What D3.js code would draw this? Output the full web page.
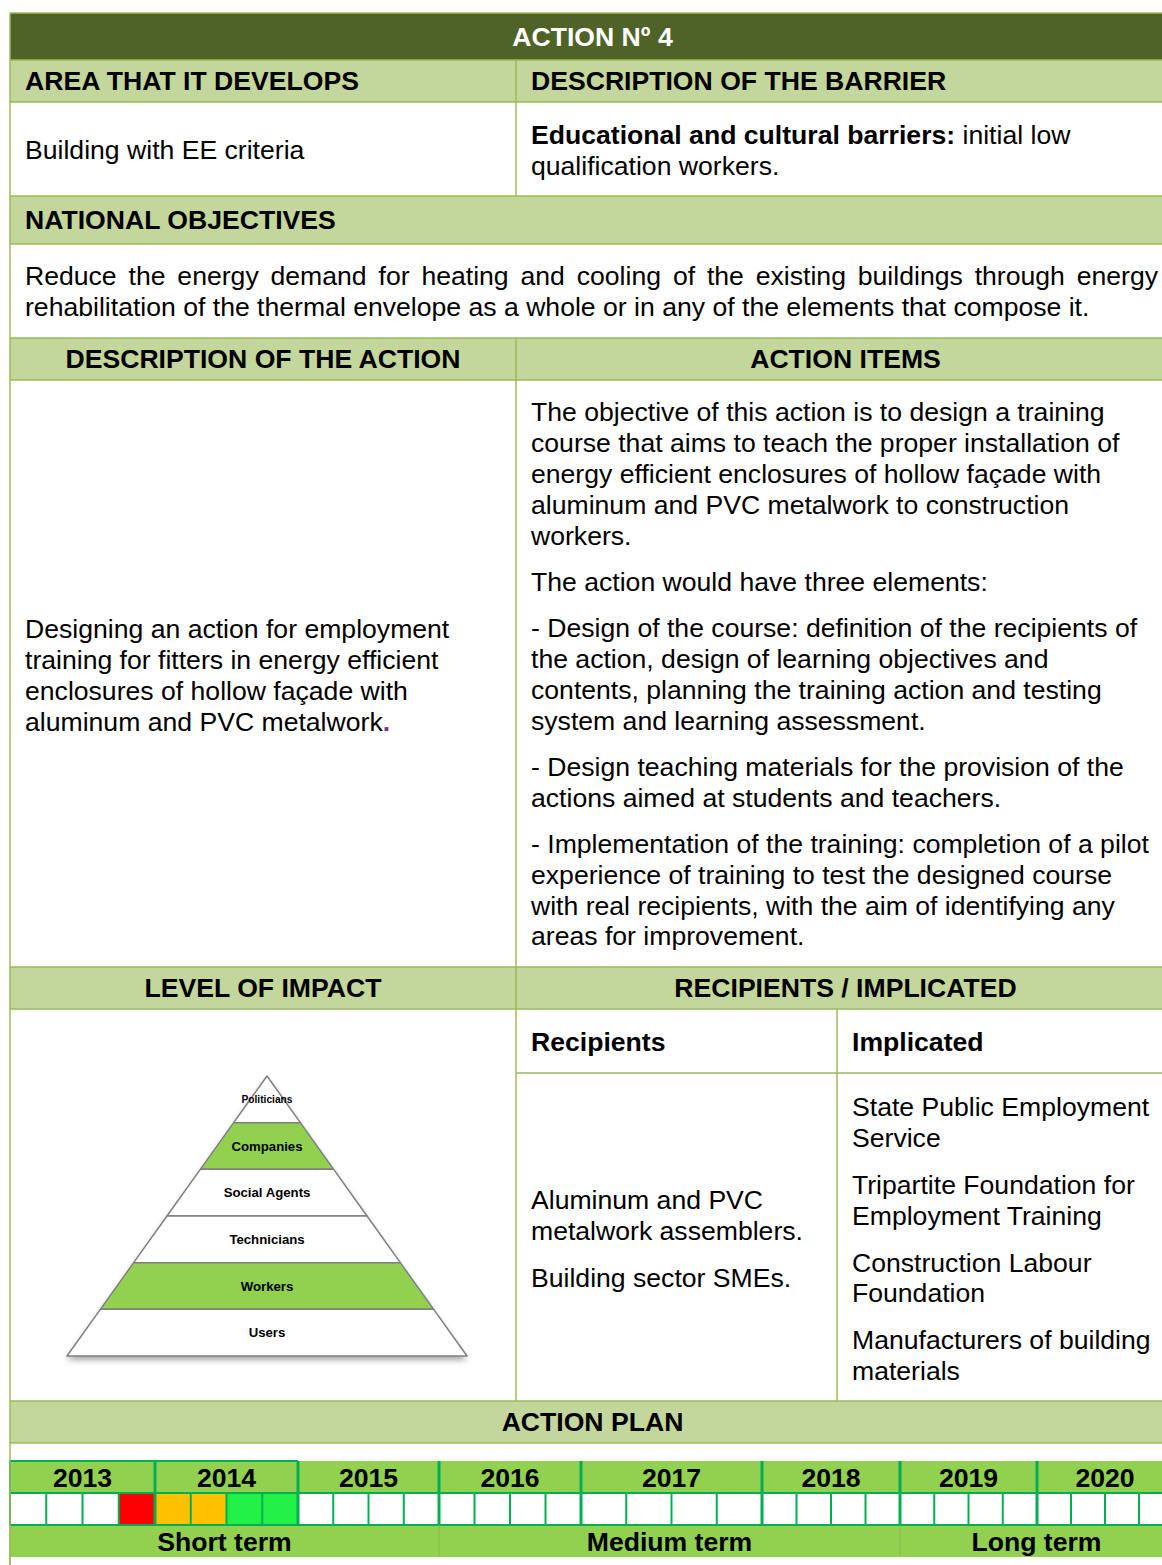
<!DOCTYPE html>
<html><head><meta charset="utf-8">
<script src="https://cdn.jsdelivr.net/npm/d3@7"></script>
<style>
html,body{margin:0;padding:0;background:#fff;}
svg{display:block;}
text{font-family:"Liberation Sans",Arial,sans-serif;}
</style></head>
<body>
<script>
// ---------- data ----------
const title = "ACTION Nº 4";
const areaHeader = "AREA THAT IT DEVELOPS";
const barrierHeader = "DESCRIPTION OF THE BARRIER";
const areaText = "Building with EE criteria";
const barrierBold = "Educational and cultural barriers:";
const barrierLines = [" initial low", "qualification workers."];
const objectivesHeader = "NATIONAL OBJECTIVES";
const objectivesLines = [
  "Reduce the energy demand for heating and cooling of the existing buildings through energy",
  "rehabilitation of the thermal envelope as a whole or in any of the elements that compose it."
];
const actionDescHeader = "DESCRIPTION OF THE ACTION";
const actionItemsHeader = "ACTION ITEMS";
const actionDescLines = [
  "Designing an action for employment",
  "training for fitters in energy efficient",
  "enclosures of hollow façade with",
  "aluminum and PVC metalwork"
];
const actionItemParagraphs = [
  ["The objective of this action is to design a training",
   "course that aims to teach the proper installation of",
   "energy efficient enclosures of hollow façade with",
   "aluminum and PVC metalwork to construction",
   "workers."],
  ["The action would have three elements:"],
  ["- Design of the course: definition of the recipients of",
   "the action, design of learning objectives and",
   "contents, planning the training action and testing",
   "system and learning assessment."],
  ["- Design teaching materials for the provision of the",
   "actions aimed at students and teachers."],
  ["- Implementation of the training: completion of a pilot",
   "experience of training to test the designed course",
   "with real recipients, with the aim of identifying any",
   "areas for improvement."]
];
const impactHeader = "LEVEL OF IMPACT";
const recipientsHeader = "RECIPIENTS / IMPLICATED";
const pyramidLevels = ["Politicians","Companies","Social Agents","Technicians","Workers","Users"];
const pyramidHighlighted = ["Companies","Workers"];
const recipientsParagraphs = [["Aluminum and PVC","metalwork assemblers."],["Building sector SMEs."]];
const implicatedParagraphs = [
  ["State Public Employment","Service"],
  ["Tripartite Foundation for","Employment Training"],
  ["Construction Labour","Foundation"],
  ["Manufacturers of building","materials"]
];
const planHeader = "ACTION PLAN";
const years = [2013,2014,2015,2016,2017,2018,2019,2020];
const activeQuarterYears = [2013,2014,2014,2014,2014];
const activeQuarterNums  = [4,1,2,3,4];
const activeQuarterPhase = ["start","progress","progress","done","done"];
const terms = ["Short term","Medium term","Long term"];
const termStart = [2013,2016,2019];
const termEnd = [2016,2019,2021];

// ---------- styles ----------
const W = 1162, H = 1565;
const FS = 26.6;
const dark = "#4f6228", light = "#c3d69b", line = "#9bbb59";
const tlGreen = "#92d050", tlLine = "#00b050";
const phaseColor = {start:"#ff0000", progress:"#ffc000", done:"#22f046"};
const L = 10, R = 1175, MID = 516, SUB = 837;

const svg = d3.select("body").append("svg").attr("width",W).attr("height",H);
const defs = svg.append("defs");
const f = defs.append("filter").attr("id","shadow").attr("x","-20%").attr("y","-20%").attr("width","140%").attr("height","160%");
f.append("feDropShadow").attr("dx",0).attr("dy",4).attr("stdDeviation",3).attr("flood-color","#000").attr("flood-opacity",0.35);

const g = svg.append("g");
function rect(x,y,w,h,fill){ g.append("rect").attr("x",x).attr("y",y).attr("width",w).attr("height",h).attr("fill",fill); }
function hline(x1,x2,y,c=line,sw=1.5){ g.append("line").attr("x1",x1).attr("x2",x2).attr("y1",y).attr("y2",y).attr("stroke",c).attr("stroke-width",sw); }
function vline(x,y1,y2,c=line,sw=1.5){ g.append("line").attr("x1",x).attr("x2",x).attr("y1",y1).attr("y2",y2).attr("stroke",c).attr("stroke-width",sw); }
function txt(s,x,y,opts={}){
  return g.append("text").attr("x",x).attr("y",y).attr("dy","0.35em")
    .attr("font-size",opts.size||FS).attr("font-weight",opts.bold?"bold":"normal")
    .attr("fill",opts.fill||"#000").attr("text-anchor",opts.anchor||"start").text(s);
}
const LH = 30.8;
function paras(ps,x,y0,gap){
  let y=y0;
  ps.forEach(p=>{ p.forEach(l=>{ txt(l,x,y); y+=LH; }); y+=gap; });
}

// backgrounds
rect(L,13,R-L,47,dark);
rect(L,60,R-L,42,light);
rect(L,196,R-L,48,light);
rect(L,338,R-L,42,light);
rect(L,967,R-L,42,light);
rect(L,1401,R-L,42,light);

// grid lines
[13,60,102,196,244,338,380,967,1009,1401,1443].forEach(y=>hline(L,R,y));
vline(L,13,H);
vline(MID,60,196); vline(MID,338,1401);
vline(SUB,1009,1401); hline(MID,R,1073);

// texts
txt(title,(L+R)/2,37,{bold:true,fill:"#fff",anchor:"middle"});
txt(areaHeader,25,81,{bold:true});
txt(barrierHeader,531,81,{bold:true});
txt(areaText,25,150);
const bt = txt(barrierBold,531,135,{bold:true});
bt.append("tspan").attr("font-weight","normal").text(barrierLines[0]);
txt(barrierLines[1],531,166);
txt(objectivesHeader,25,220,{bold:true});
objectivesLines.forEach((l,i)=>{
  const t = txt(l,25,276+i*31);
  if(i===0){
    const len = t.node().getComputedTextLength();
    const n = l.split(" ").length-1;
    t.attr("word-spacing",((1158-25)-len)/n);
  }
});
txt(actionDescHeader,(L+MID)/2,359,{bold:true,anchor:"middle"});
txt(actionItemsHeader,(MID+R)/2,359,{bold:true,anchor:"middle"});
actionDescLines.forEach((l,i)=>{
  const t = txt(l,25,629+i*LH);
  if(i===actionDescLines.length-1) t.append("tspan").attr("fill","#7030a0").attr("font-weight","bold").text(".");
});
paras(actionItemParagraphs,531,412,15.5);
txt(impactHeader,(L+MID)/2,988,{bold:true,anchor:"middle"});
txt(recipientsHeader,(MID+R)/2,988,{bold:true,anchor:"middle"});
txt("Recipients",531,1042,{bold:true});
txt("Implicated",852,1042,{bold:true});
paras(recipientsParagraphs,531,1200,16);
paras(implicatedParagraphs,852,1107,16);
txt(planHeader,(L+R)/2,1422,{bold:true,anchor:"middle"});

// ---------- pyramid ----------
const py = d3.scaleLinear().domain([0,pyramidLevels.length]).range([1076,1356]);
const pw = d3.scaleLinear().domain([0,pyramidLevels.length]).range([0,200]);
const pcx = 267;
const pg = svg.append("g");
pg.append("path")
  .attr("d",`M${pcx},${py(0)}L${pcx+pw(6)},${py(6)}L${pcx-pw(6)},${py(6)}Z`)
  .attr("fill","#fff").attr("filter","url(#shadow)");
pyramidLevels.forEach((lv,i)=>{
  const y0=py(i), y1=py(i+1), w0=pw(i), w1=pw(i+1);
  pg.append("path")
    .attr("d",`M${pcx-w0},${y0}L${pcx+w0},${y0}L${pcx+w1},${y1}L${pcx-w1},${y1}Z`)
    .attr("fill",pyramidHighlighted.includes(lv)?"#92d050":"#fff")
    .attr("stroke","#7f7f7f").attr("stroke-width",1.5).attr("stroke-linejoin","round");
  pg.append("text").attr("x",pcx).attr("y",i===0?py(0.5):(y0+y1)/2).attr("dy","0.35em")
    .attr("text-anchor","middle").attr("font-weight","bold")
    .attr("font-size",i===0?10.2:13.2).attr("fill","#000").text(lv);
});

// ---------- timeline ----------
const x = d3.scaleLinear()
  .domain([2013,2014,2015,2016,2017,2018,2019,2020,2021])
  .range([10,155,298,439,581,762,900,1037,1173]);
const ty0=1461, ty1=1493, ty2=1525, ty3=1557;
const tg = svg.append("g");
tg.append("rect").attr("x",x(2013)).attr("y",ty0).attr("width",R-x(2013)).attr("height",ty1-ty0).attr("fill",tlGreen);
tg.append("rect").attr("x",x(2013)).attr("y",ty1).attr("width",R-x(2013)).attr("height",ty2-ty1).attr("fill","#fff");
tg.append("rect").attr("x",x(2013)).attr("y",ty2).attr("width",R-x(2013)).attr("height",ty3-ty2).attr("fill",tlGreen);
activeQuarterYears.forEach((yr,i)=>{
  const q = activeQuarterNums[i];
  tg.append("rect").attr("x",x(yr+(q-1)/4)).attr("y",ty1).attr("width",x(yr+q/4)-x(yr+(q-1)/4)).attr("height",ty2-ty1)
    .attr("fill",phaseColor[activeQuarterPhase[i]]);
});
years.forEach(yr=>{
  [1,2,3].forEach(q=>{
    const xx=x(yr+q/4);
    tg.append("line").attr("x1",xx).attr("x2",xx).attr("y1",ty1).attr("y2",ty2).attr("stroke",tlLine).attr("stroke-width",2);
  });
});
years.forEach(yr=>{
  tg.append("text").attr("x",(x(yr)+x(yr+1))/2).attr("y",(ty0+ty1)/2+1).attr("dy","0.35em")
    .attr("text-anchor","middle").attr("font-weight","bold").attr("font-size",FS).text(yr);
});
tg.append("line").attr("x1",x(2013)).attr("x2",R).attr("y1",ty1).attr("y2",ty1).attr("stroke",tlLine).attr("stroke-width",2);
tg.append("line").attr("x1",x(2013)).attr("x2",R).attr("y1",ty2).attr("y2",ty2).attr("stroke",tlLine).attr("stroke-width",2);
tg.append("line").attr("x1",x(2013)).attr("x2",x(2015)).attr("y1",ty0).attr("y2",ty0).attr("stroke",tlLine).attr("stroke-width",2);
years.concat([2021]).forEach(yr=>{
  const xx=x(yr);
  tg.append("line").attr("x1",xx).attr("x2",xx).attr("y1",ty0).attr("y2",ty2).attr("stroke",tlLine).attr("stroke-width",yr===2013?2:3);
});
terms.forEach((t,i)=>{
  if(i>0) tg.append("line").attr("x1",x(termStart[i])).attr("x2",x(termStart[i])).attr("y1",ty2).attr("y2",ty3).attr("stroke","#86b94a").attr("stroke-width",1);
  tg.append("text").attr("x",(x(termStart[i])+x(termEnd[i]))/2).attr("y",(ty2+ty3)/2+1).attr("dy","0.35em")
    .attr("text-anchor","middle").attr("font-weight","bold").attr("font-size",FS).text(t);
});
tg.append("line").attr("x1",L).attr("x2",L).attr("y1",ty0).attr("y2",H).attr("stroke",line).attr("stroke-width",1.5);
</script>
</body></html>
